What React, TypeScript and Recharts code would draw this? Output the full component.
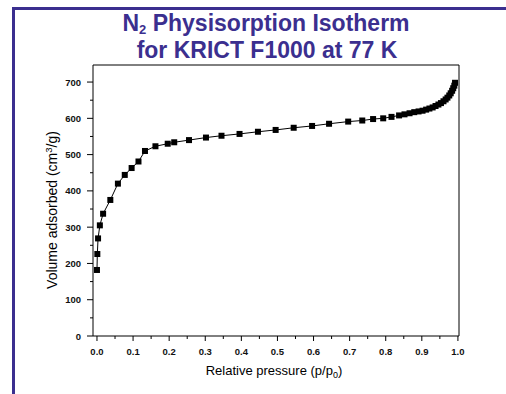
import React from 'react'
import { LineChart, Line, XAxis, YAxis } from 'recharts'

// relative pressure p/p0
const pressure = [
  0.000, 0.001, 0.003, 0.008, 0.017, 0.037, 0.058, 0.077, 0.096, 0.115,
  0.133, 0.162, 0.196, 0.214, 0.255, 0.302, 0.345, 0.395, 0.446, 0.495,
  0.545, 0.596, 0.643, 0.696, 0.735, 0.765, 0.793, 0.816, 0.837, 0.852,
  0.866, 0.879, 0.891, 0.902, 0.912, 0.921, 0.930, 0.938, 0.946, 0.953,
  0.960, 0.966, 0.971, 0.976, 0.980, 0.984, 0.987, 0.990, 0.992,
]

// volume adsorbed (cm3/g)
const volume = [
  182, 226, 269, 305, 337, 375, 420, 444, 463, 481,
  510, 523, 530, 534, 540, 547, 552, 557, 563, 568,
  574, 579, 585, 591, 594, 598, 600, 604, 608, 611,
  614, 617, 619, 621, 624, 627, 630, 634, 638, 642,
  647, 652, 657, 663, 669, 676, 683, 690, 698,
]

const xTicks = [
  0, 0.05, 0.1, 0.15, 0.2, 0.25, 0.3, 0.35, 0.4, 0.45, 0.5,
  0.55, 0.6, 0.65, 0.7, 0.75, 0.8, 0.85, 0.9, 0.95, 1.0,
]
const yTicks = [0, 50, 100, 150, 200, 250, 300, 350, 400, 450, 500, 550, 600, 650, 700]

const data = pressure.map((p, i) => ({ p, v: volume[i] }))

const FONT = 'Arial, "Liberation Sans", sans-serif'
const PURPLE = '#3b2f8f'

const XTick = (props: any) => {
  const { x, y, payload } = props
  const major = Math.round(payload.value * 100) % 10 === 0
  return (
    <g>
      <line x1={x} x2={x} y1={y} y2={y + (major ? 5 : 3)} stroke="#000" />
      {major && (
        <text x={x} y={y + 19} textAnchor="middle" fontSize={9.5} fontWeight="bold" fontFamily={FONT} fill="#111">
          {payload.value.toFixed(1)}
        </text>
      )}
    </g>
  )
}

const YTick = (props: any) => {
  const { x, y, payload } = props
  const major = payload.value % 100 === 0
  return (
    <g>
      <line x1={x} x2={x - (major ? 6 : 3)} y1={y} y2={y} stroke="#000" />
      {major && (
        <text x={x - 12} y={y + 3.5} textAnchor="end" fontSize={9.5} fontWeight="bold" fontFamily={FONT} fill="#111">
          {payload.value}
        </text>
      )}
    </g>
  )
}

const SquareDot = (props: any) => {
  const { cx, cy } = props
  if (cx == null || cy == null) return null
  return <rect x={cx - 3} y={cy - 3} width={6} height={6} fill="#000" />
}

export default function App() {
  return (
    <div style={{ position: 'fixed', left: 0, top: 0, width: 506, height: 394, background: '#fff', overflow: 'hidden' }}>
      {/* slide frame */}
      <div style={{ position: 'absolute', left: 12, top: 7, width: 500, height: 400, borderTop: `3px solid ${PURPLE}`, borderLeft: `3px solid ${PURPLE}` }} />

      <svg width={506} height={394} style={{ position: 'absolute', left: 0, top: 0 }}>
        <text x={266} y={31} textAnchor="middle" fontSize={23} fontWeight="bold" fontFamily={FONT} fill={PURPLE}>
          N<tspan fontSize={13} dy={3}>2</tspan><tspan dy={-3}> Physisorption Isotherm</tspan>
        </text>
        <text x={267} y={58} textAnchor="middle" fontSize={23} fontWeight="bold" fontFamily={FONT} fill={PURPLE}>
          for KRICT F1000 at 77 K
        </text>
        <text x={274} y={375} textAnchor="middle" fontSize={13} fontFamily={FONT} fill="#000">
          Relative pressure (p/p<tspan fontSize={9} dy={3}>0</tspan><tspan dy={-3}>)</tspan>
        </text>
        <text transform="translate(57,210) rotate(-90)" textAnchor="middle" fontSize={14} fontFamily={FONT} fill="#000">
          Volume adsorbed (cm<tspan fontSize={9.5} dy={-5}>3</tspan><tspan dy={5}>/g)</tspan>
        </text>
      </svg>

      <div style={{ position: 'absolute', left: 0, top: 0 }}>
        <LineChart width={506} height={394} data={data} margin={{ top: 64, right: 46, bottom: 57, left: 92 }}>
          <XAxis
            dataKey="p"
            type="number"
            domain={[-0.011, 1.003]}
            ticks={xTicks}
            interval={0}
            height={1}
            tickSize={0}
            tickMargin={0}
            tickLine={false}
            tick={<XTick />}
            axisLine={{ stroke: '#000' }}
          />
          <XAxis
            xAxisId="top"
            orientation="top"
            dataKey="p"
            type="number"
            domain={[-0.011, 1.003]}
            height={1}
            tick={false}
            tickLine={false}
            axisLine={{ stroke: '#000' }}
          />
          <YAxis
            type="number"
            domain={[0, 747]}
            ticks={yTicks}
            interval={0}
            width={1}
            tickSize={0}
            tickMargin={0}
            tickLine={false}
            tick={<YTick />}
            axisLine={{ stroke: '#000' }}
          />
          <YAxis
            yAxisId="right"
            orientation="right"
            type="number"
            domain={[0, 747]}
            width={1}
            tick={false}
            tickLine={false}
            axisLine={{ stroke: '#000' }}
          />
          <Line
            dataKey="v"
            stroke="#000"
            strokeWidth={1}
            dot={<SquareDot />}
            isAnimationActive={false}
          />
        </LineChart>
      </div>
    </div>
  )
}
